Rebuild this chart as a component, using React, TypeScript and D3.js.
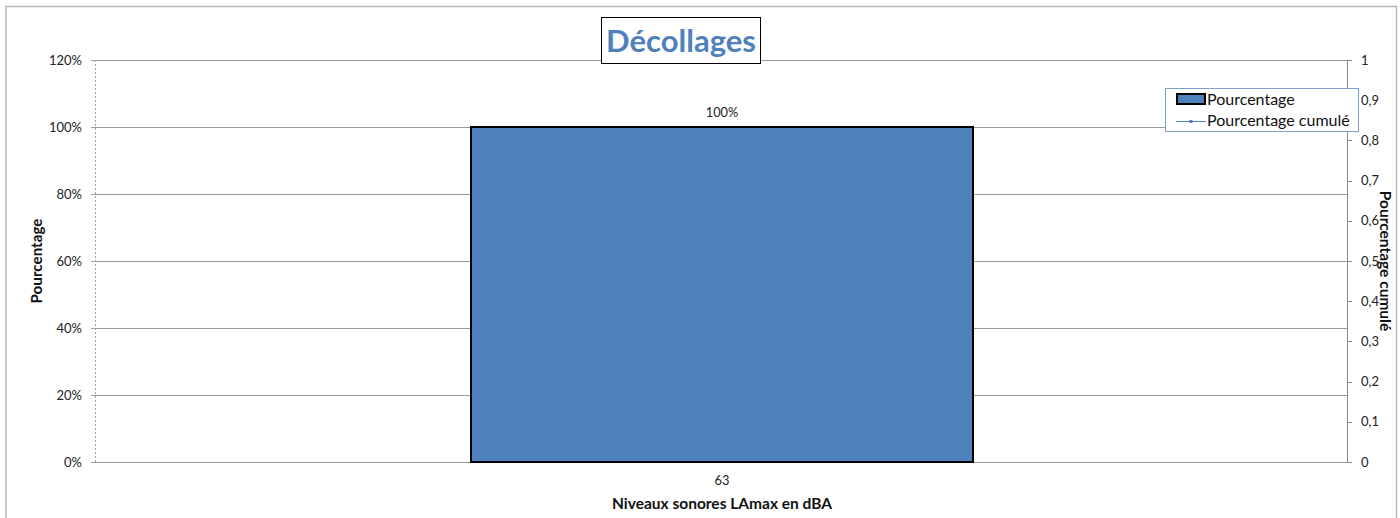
import React from "react";
import * as d3 from "d3";

const categories = ["63"];
const pourcentage = [1.0];
const leftTicks = [0, 0.2, 0.4, 0.6, 0.8, 1.0, 1.2];
const rightTicks = [0, 0.1, 0.2, 0.3, 0.4, 0.5, 0.6, 0.7, 0.8, 0.9, 1];
const title = "Décollages";
const xTitle = "Niveaux sonores LAmax en dBA";
const yTitle = "Pourcentage";
const y2Title = "Pourcentage cumulé";
const legendItems = ["Pourcentage", "Pourcentage cumulé"];

const W = 1400;
const H = 518;
const left = 95;
const right = 1347;
const top = 60;
const bottom = 462;
const FONT = "Lato, 'Open Sans', sans-serif";
const BLUE = "#4F81BD";

export default function App() {
  const x = d3.scaleBand<string>().domain(categories).range([left, right]).paddingInner(0.2).paddingOuter(0.3);
  const y = d3.scaleLinear().domain([0, 1.2]).range([bottom, top]);
  const y2 = d3.scaleLinear().domain([0, 1]).range([bottom, top]);
  const pctFmt = (v: number) => `${Math.round(v * 100)}%`;
  const commaFmt = (v: number) => (v === 0 || v === 1 ? String(v) : d3.format(".1f")(v).replace(".", ","));
  const barW = 502;
  const cx = (c: string) => (x(c) as number) + x.bandwidth() / 2 + 1;

  return (
    <svg width={W} height={H} style={{ position: "absolute", left: 0, top: 0, background: "#fff" }} fontFamily={FONT}>
      {/* chart border */}
      <path d={`M6,${H + 2} V6.5 H1396.5 V${H + 2}`} fill="none" stroke="#b8b8b8" strokeWidth={1.5} />

      {/* gridlines */}
      {leftTicks.map((t) => (
        <line key={"g" + t} x1={left} x2={right} y1={Math.round(y(t)) + 0.5} y2={Math.round(y(t)) + 0.5} stroke="#9a9a9a" strokeWidth={1} />
      ))}

      {/* left axis (dashed) */}
      <line x1={left + 0.5} x2={left + 0.5} y1={top} y2={bottom} stroke="#a0a0a0" strokeDasharray="2,2" />
      {leftTicks.map((t) => (
        <g key={"lt" + t}>
          <line x1={left - 4} x2={left} y1={Math.round(y(t)) + 0.5} y2={Math.round(y(t)) + 0.5} stroke="#a0a0a0" />
          <text x={82} y={y(t) + 4.5} textAnchor="end" fontSize={13} fill="#222">
            {pctFmt(t)}
          </text>
        </g>
      ))}

      {/* right axis */}
      <line x1={right + 0.5} x2={right + 0.5} y1={top} y2={bottom} stroke="#8a8a8a" />
      {rightTicks.map((t) => (
        <g key={"rt" + t}>
          <line x1={right} x2={right + 5} y1={Math.round(y2(t)) + 0.5} y2={Math.round(y2(t)) + 0.5} stroke="#8a8a8a" />
          <text x={1361} y={y2(t) + 4.5} textAnchor="start" fontSize={13} fill="#222">
            {commaFmt(t)}
          </text>
        </g>
      ))}

      {/* bars */}
      {categories.map((c, i) => (
        <g key={c}>
          <rect x={cx(c) - barW / 2} y={y(pourcentage[i])} width={barW} height={bottom - y(pourcentage[i])} fill={BLUE} stroke="#000" strokeWidth={2} />
          <text x={cx(c)} y={y(pourcentage[i]) - 10} textAnchor="middle" fontSize={12.8} fill="#222">
            {pctFmt(pourcentage[i])}
          </text>
          <text x={cx(c)} y={485} textAnchor="middle" fontSize={12.8} fill="#222">
            {c}
          </text>
        </g>
      ))}

      {/* axis titles */}
      <text x={722} y={509} textAnchor="middle" fontSize={15.5} fontWeight="bold" fill="#111">
        {xTitle}
      </text>
      <text transform="translate(42,261) rotate(-90)" textAnchor="middle" fontSize={15.2} fontWeight="bold" fill="#111">
        {yTitle}
      </text>
      <text transform="translate(1380,261) rotate(90)" textAnchor="middle" fontSize={15.5} fontWeight="bold" fill="#111">
        {y2Title}
      </text>

      {/* title */}
      <rect x={601.5} y={17.5} width={159} height={46} fill="#fff" stroke="#000" strokeWidth={1} />
      <text x={681} y={52} textAnchor="middle" fontSize={31} fontWeight="bold" fill={BLUE}>
        {title}
      </text>

      {/* legend */}
      <rect x={1165.5} y={88.5} width={193} height={43} fill="#fff" stroke="#7da2d2" strokeWidth={1} />
      <rect x={1177} y={94} width={28} height={10} fill={BLUE} stroke="#000" strokeWidth={2} />
      <text x={1207} y={105} fontSize={16} fill="#111">
        {legendItems[0]}
      </text>
      <line x1={1176} x2={1206} y1={121.5} y2={121.5} stroke={BLUE} strokeWidth={1} />
      <rect x={1189.5} y={120} width={3} height={3} fill={BLUE} />
      <text x={1207} y={126} fontSize={16} fill="#111">
        {legendItems[1]}
      </text>
    </svg>
  );
}
